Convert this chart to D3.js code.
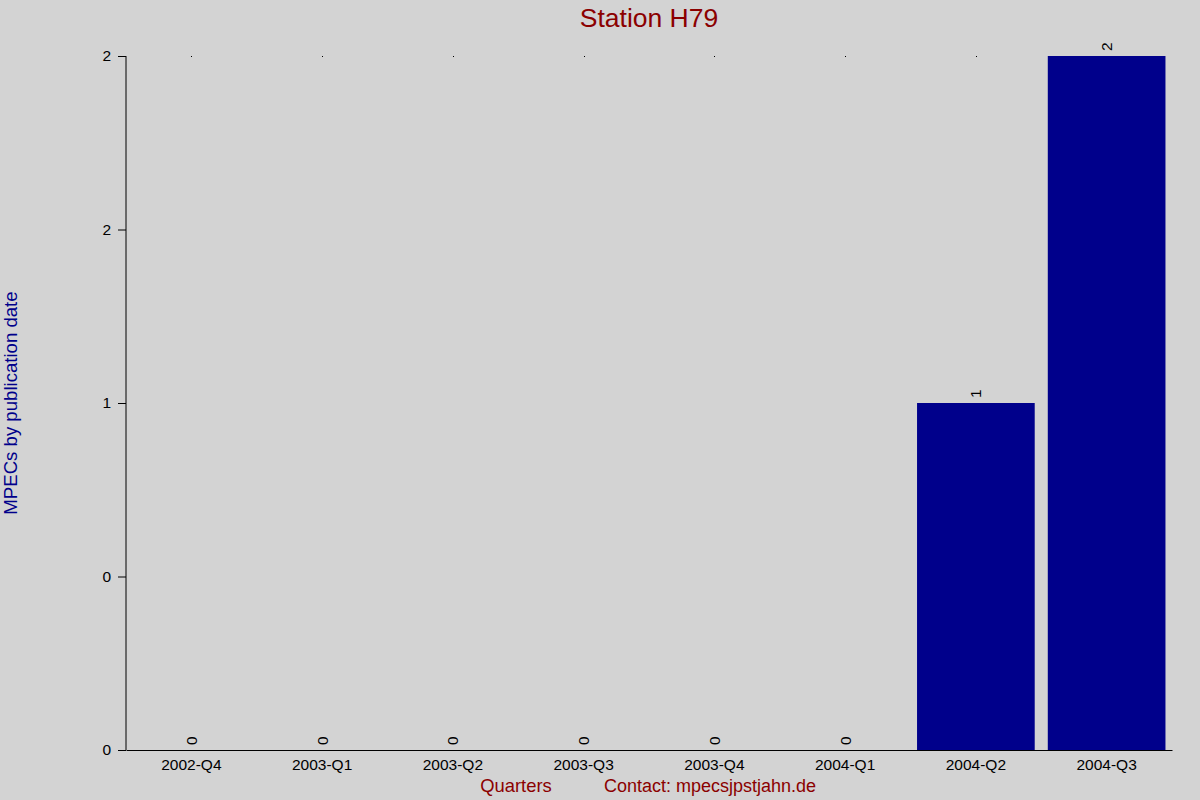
<!DOCTYPE html>
<html>
<head>
<meta charset="utf-8">
<script src="https://cdn.jsdelivr.net/npm/d3@7"></script>
<style>
  body { margin: 0; background: #d3d3d3; }
  svg { display: block; font-family: "Liberation Sans", Arial, sans-serif; }
</style>
</head>
<body>
<div id="chart"></div>
<script>
"use strict";

// quarters and MPEC counts
var quarters = ["2002-Q4", "2003-Q1", "2003-Q2", "2003-Q3", "2003-Q4", "2004-Q1", "2004-Q2", "2004-Q3"];
var counts = [0, 0, 0, 0, 0, 0, 1, 2];
var yTickValues = [0, 0.5, 1, 1.5, 2];
var yTickLabels = ["0", "0", "1", "2", "2"];

var width = 1200,
  height = 800;
var margin = { top: 56, right: 28, bottom: 50, left: 126 };

var svg = d3
  .select("#chart")
  .append("svg")
  .attr("width", width)
  .attr("height", height);

svg.append("rect").attr("width", width).attr("height", height).attr("fill", "#d3d3d3");

var x = d3
  .scaleBand()
  .domain(quarters)
  .range([margin.left, width - margin.right])
  .paddingInner(0.1)
  .paddingOuter(0.05);

var y = d3
  .scaleLinear()
  .domain([0, 2])
  .range([height - margin.bottom, margin.top]);

// little dots at the top of each column
svg
  .selectAll("rect.dot")
  .data(quarters)
  .enter()
  .append("rect")
  .attr("class", "dot")
  .attr("x", d => Math.round(x(d) + x.bandwidth() / 2))
  .attr("y", y(2))
  .attr("width", 1)
  .attr("height", 1)
  .attr("fill", "#000");

// bars
svg
  .selectAll("rect.bar")
  .data(counts)
  .enter()
  .append("rect")
  .attr("class", "bar")
  .attr("x", (d, i) => x(quarters[i]))
  .attr("y", d => y(d))
  .attr("width", x.bandwidth())
  .attr("height", d => y(0) - y(d))
  .attr("fill", "#00008b");

// value labels, rotated
svg
  .selectAll("text.val")
  .data(counts)
  .enter()
  .append("text")
  .attr("class", "val")
  .attr("transform", (d, i) => {
    var cx = x(quarters[i]) + x.bandwidth() / 2 + 5.5;
    return "translate(" + cx + "," + (y(d) - 5) + ") rotate(-90)";
  })
  .attr("font-size", 15.5)
  .attr("fill", "#000")
  .text(d => d);

// axes
var yAxis = d3
  .axisLeft(y)
  .tickValues(yTickValues)
  .tickSize(8)
  .tickFormat((d, i) => yTickLabels[i]);

var gy = svg
  .append("g")
  .attr("transform", "translate(" + margin.left + ",0)")
  .call(yAxis);
gy.select(".domain").attr("d", "M0," + y(2) + "V" + y(0));
gy.selectAll("text").attr("font-size", 15.5).attr("font-family", "Liberation Sans, Arial, sans-serif").attr("dx", "-4");

var xAxis = d3.axisBottom(x).tickSize(0).tickPadding(9);
var gx = svg
  .append("g")
  .attr("transform", "translate(0," + y(0) + ")")
  .call(xAxis);
gx.selectAll("text").attr("font-size", 15.5).attr("font-family", "Liberation Sans, Arial, sans-serif").attr("fill", "#000");

// titles
svg
  .append("text")
  .attr("x", 649)
  .attr("y", 27)
  .attr("text-anchor", "middle")
  .attr("font-size", 26.5)
  .attr("fill", "#8b0000")
  .text("Station H79");

svg
  .append("text")
  .attr("transform", "translate(17,403) rotate(-90)")
  .attr("text-anchor", "middle")
  .attr("font-size", 18.6)
  .attr("fill", "#00008b")
  .text("MPECs by publication date");

svg
  .append("text")
  .attr("x", 516)
  .attr("y", 792)
  .attr("text-anchor", "middle")
  .attr("font-size", 18.4)
  .attr("fill", "#8b0000")
  .text("Quarters");

svg
  .append("text")
  .attr("x", 710)
  .attr("y", 792)
  .attr("text-anchor", "middle")
  .attr("font-size", 18)
  .attr("fill", "#8b0000")
  .text("Contact: mpecsjpstjahn.de");
</script>
</body>
</html>
